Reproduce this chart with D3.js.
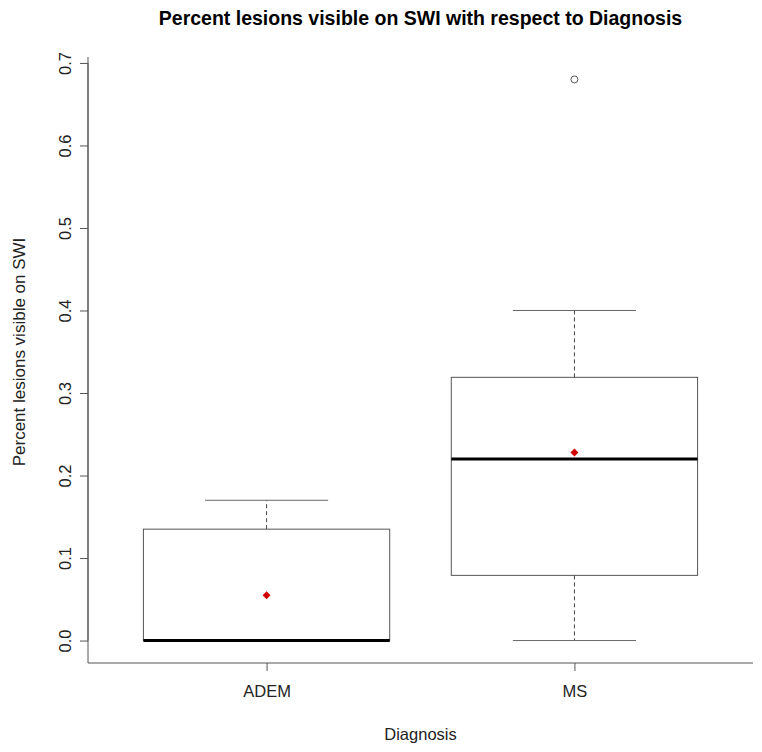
<!DOCTYPE html>
<html>
<head>
<meta charset="utf-8">
<script src="https://cdn.jsdelivr.net/npm/d3@7"></script>
<style>
body { margin:0; background:#fff; }
text { font-family: "Liberation Sans", Arial, sans-serif; }
</style>
</head>
<body>
<script>
// groups and box stats
var groups = ["ADEM","MS"];
var mins = [0, 0];
var q1s = [0, 0.079];
var medians = [0, 0.22];
var q3s = [0.135, 0.319];
var maxs = [0.17, 0.40];
var means = [0.055, 0.228];
var outliers = [[], [0.68]];
var yTicks = [0, 0.1, 0.2, 0.3, 0.4, 0.5, 0.6, 0.7];

var totalWidth = 762, totalHeight = 752;
var plotLeft = 88, plotRight = 753, plotTop = 57, plotBottom = 663;

var svg = d3.select("body").append("svg")
    .attr("width", totalWidth)
    .attr("height", totalHeight);

// R style: x from 0.42 to 2.58, y padded 4%
var xScale = d3.scaleLinear().domain([0.42, 2.58]).range([plotLeft, plotRight]);
var yScale = d3.scaleLinear().domain([-0.0272, 0.7072]).range([plotBottom, plotTop]);
var boxW = xScale(1.4) - xScale(1);

// L frame
svg.append("path")
    .attr("d", "M" + plotLeft + "," + plotTop + "V" + plotBottom + "H" + plotRight)
    .attr("fill", "none")
    .attr("stroke", "#555")
    .attr("stroke-width", 1);

var yAxis = d3.axisLeft(yScale).tickValues(yTicks).tickFormat(d3.format(".1f")).tickSize(8).tickPadding(6);
var yAxisGroup = svg.append("g").attr("transform", "translate(" + plotLeft + ",0)");
yAxis(yAxisGroup);
yAxisGroup.select(".domain").attr("d", "M0," + yScale(0) + "V" + yScale(0.7)).attr("stroke", "#555");
yAxisGroup.selectAll("line").attr("stroke", "#555");
yAxisGroup.selectAll("text")
    .attr("font-size", "16.5px").attr("fill", "#222")
    .attr("text-anchor", "middle")
    .attr("transform", "translate(-23,0) rotate(-90)")
    .attr("x", 0).attr("y", 0).attr("dy", "0.35em");

var xAxis = d3.axisBottom(xScale).tickValues([1, 2]).tickFormat(function(d){ return groups[d-1]; }).tickSize(8).tickPadding(14);
var xAxisGroup = svg.append("g").attr("transform", "translate(0," + plotBottom + ")");
xAxis(xAxisGroup);
xAxisGroup.select(".domain").remove();
xAxisGroup.selectAll("line").attr("stroke", "#555");
xAxisGroup.selectAll("text").attr("font-size", "16.5px").attr("fill", "#222");

// boxes
var g = svg.selectAll(".box").data(groups).enter().append("g").attr("class", "box");

g.append("line")
    .attr("x1", function(d,i){ return xScale(i+1); })
    .attr("x2", function(d,i){ return xScale(i+1); })
    .attr("y1", function(d,i){ return yScale(q3s[i]); })
    .attr("y2", function(d,i){ return yScale(maxs[i]); })
    .attr("stroke", "#444").attr("stroke-dasharray", "4,3");
g.append("line")
    .attr("x1", function(d,i){ return xScale(i+1); })
    .attr("x2", function(d,i){ return xScale(i+1); })
    .attr("y1", function(d,i){ return yScale(q1s[i]); })
    .attr("y2", function(d,i){ return yScale(mins[i]); })
    .attr("stroke", "#444").attr("stroke-dasharray", "4,3");
// whisker caps
[maxs, mins].forEach(function(arr){
  g.append("line")
    .attr("x1", function(d,i){ return xScale(i+1) - boxW/2; })
    .attr("x2", function(d,i){ return xScale(i+1) + boxW/2; })
    .attr("y1", function(d,i){ return yScale(arr[i]); })
    .attr("y2", function(d,i){ return yScale(arr[i]); })
    .attr("stroke", "#666");
});
g.append("rect")
    .attr("x", function(d,i){ return xScale(i+1) - boxW; })
    .attr("width", boxW*2)
    .attr("y", function(d,i){ return yScale(q3s[i]); })
    .attr("height", function(d,i){ return yScale(q1s[i]) - yScale(q3s[i]); })
    .attr("fill", "none").attr("stroke", "#555");
g.append("line")
    .attr("x1", function(d,i){ return xScale(i+1) - boxW; })
    .attr("x2", function(d,i){ return xScale(i+1) + boxW; })
    .attr("y1", function(d,i){ return yScale(medians[i]); })
    .attr("y2", function(d,i){ return yScale(medians[i]); })
    .attr("stroke", "#000").attr("stroke-width", 3);

// outliers
groups.forEach(function(gr, i){
  svg.selectAll(".out" + i).data(outliers[i]).enter().append("circle")
    .attr("cx", xScale(i+1)).attr("cy", function(d){ return yScale(d); })
    .attr("r", 3.5).attr("fill", "none").attr("stroke", "#555");
});

// means
svg.selectAll(".mean").data(means).enter().append("path")
    .attr("transform", function(d,i){ return "translate(" + xScale(i+1) + "," + yScale(d) + ")"; })
    .attr("d", d3.symbol(d3.symbolDiamond2, 40))
    .attr("fill", "#d00000");

svg.append("text")
    .attr("x", (plotLeft+plotRight)/2).attr("y", 25)
    .attr("text-anchor", "middle")
    .attr("font-size", "19.5px").attr("font-weight", "bold")
    .text("Percent lesions visible on SWI with respect to Diagnosis");

svg.append("text")
    .attr("x", (plotLeft+plotRight)/2).attr("y", 740)
    .attr("text-anchor", "middle").attr("font-size", "16.5px").attr("fill", "#222")
    .text("Diagnosis");

svg.append("text")
    .attr("transform", "translate(25," + ((plotTop+plotBottom)/2 - 8) + ") rotate(-90)")
    .attr("text-anchor", "middle").attr("font-size", "17px").attr("fill", "#222")
    .text("Percent lesions visible on SWI");
</script>
</body>
</html>
